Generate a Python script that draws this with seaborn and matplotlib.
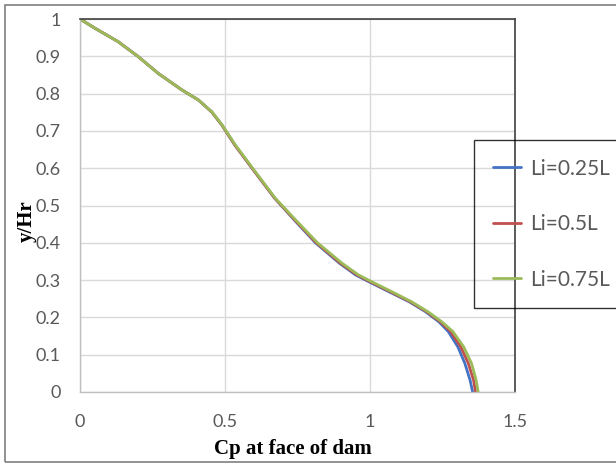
import matplotlib
matplotlib.use("Agg")
import matplotlib.pyplot as plt
import seaborn as sns
import pandas as pd
from matplotlib.patches import Rectangle

# ---- data ----
y_vals = [1.0, 0.975, 0.939, 0.899, 0.854, 0.810, 0.783, 0.751, 0.716, 0.662,
          0.590, 0.519, 0.456, 0.400, 0.345, 0.314, 0.296, 0.269, 0.242, 0.215,
          0.188, 0.162, 0.121, 0.077, 0.032, 0.0]
cp_025 = [0.0, 0.052, 0.132, 0.201, 0.270, 0.351, 0.408, 0.454, 0.489, 0.534,
          0.603, 0.672, 0.745, 0.812, 0.895, 0.950, 0.995, 1.065, 1.135, 1.192,
          1.238, 1.270, 1.303, 1.327, 1.345, 1.354]
cp_05 = [0.0, 0.052, 0.132, 0.201, 0.270, 0.351, 0.408, 0.454, 0.489, 0.534,
         0.603, 0.672, 0.747, 0.815, 0.899, 0.955, 1.000, 1.070, 1.139, 1.196,
         1.243, 1.278, 1.313, 1.339, 1.357, 1.364]
cp_075 = [0.0, 0.052, 0.132, 0.201, 0.270, 0.351, 0.408, 0.455, 0.490, 0.536,
          0.605, 0.674, 0.750, 0.819, 0.904, 0.960, 1.005, 1.075, 1.143, 1.200,
          1.248, 1.286, 1.323, 1.350, 1.366, 1.373]
series_names = ["Li=0.25L", "Li=0.5L", "Li=0.75L"]
x_ticks = [0, 0.5, 1, 1.5]
x_tick_labels = ["0", "0.5", "1", "1.5"]
y_ticks = [0, 0.1, 0.2, 0.3, 0.4, 0.5, 0.6, 0.7, 0.8, 0.9, 1.0]
y_tick_labels = ["0", "0.1", "0.2", "0.3", "0.4", "0.5", "0.6", "0.7", "0.8", "0.9", "1"]

rows = []
for name, cps in zip(series_names, [cp_025, cp_05, cp_075]):
    for c, y in zip(cps, y_vals):
        rows.append({"Cp": c, "y": y, "series": name})
df = pd.DataFrame(rows)

sns.set_style("white")
plt.rcParams["font.family"] = ["Lato", "DejaVu Sans"]

fig = plt.figure(figsize=(6.16, 4.67), dpi=100)
ax = fig.add_axes([80 / 616, 1 - 392 / 467, 435 / 616, 373 / 467])

palette = {"Li=0.25L": "#4472C4", "Li=0.5L": "#C0504D", "Li=0.75L": "#9BBB59"}
sns.lineplot(data=df, x="Cp", y="y", hue="series", palette=palette,
             sort=False, estimator=None, linewidth=2.0, ax=ax)
for ln in ax.get_lines():
    ln.set_solid_joinstyle("round")
    ln.set_solid_capstyle("round")

ax.set_xlim(0, 1.5)
ax.set_ylim(0, 1)
ax.set_xticks(x_ticks)
ax.set_xticklabels(x_tick_labels)
ax.set_yticks(y_ticks)
ax.set_yticklabels(y_tick_labels)
ax.grid(True, color="#D9D9D9", linewidth=1)
ax.tick_params(axis="both", length=0, labelsize=13, labelcolor="#595959")
ax.tick_params(axis="x", pad=16)
ax.tick_params(axis="y", pad=14)

for side in ["left", "bottom"]:
    ax.spines[side].set_color("#BFBFBF")
    ax.spines[side].set_linewidth(1)
for side in ["top", "right"]:
    ax.spines[side].set_color("#404040")
    ax.spines[side].set_linewidth(1.2)

ax.set_xlabel("Cp at face of dam", family="Liberation Serif", weight="bold",
              fontsize=15, color="black")
ax.xaxis.set_label_coords(0.49, -0.125)
ax.set_ylabel("y/Hr", family="Liberation Serif", weight="bold",
              fontsize=15, color="black", va="center")
ax.yaxis.set_label_coords(-0.122, 0.458)

leg = ax.legend(loc="upper left", bbox_to_anchor=((474 - 80) / 435, (392 - 140) / 373),
                borderaxespad=0, frameon=True, fancybox=False, fontsize=15,
                labelspacing=1.7, borderpad=0.9, handlelength=1.35,
                handletextpad=0.45, title=None)
leg.get_frame().set_edgecolor("black")
leg.get_frame().set_linewidth(1)
leg.get_frame().set_facecolor("none")
for t in leg.get_texts():
    t.set_color("#595959")

# outer chart border
fig.patches.append(Rectangle((5 / 616, 5 / 467), 1.2, 457 / 467,
                             transform=fig.transFigure, fill=False,
                             edgecolor="#7F7F7F", linewidth=1.2))

fig.savefig("out.png", dpi=100)
